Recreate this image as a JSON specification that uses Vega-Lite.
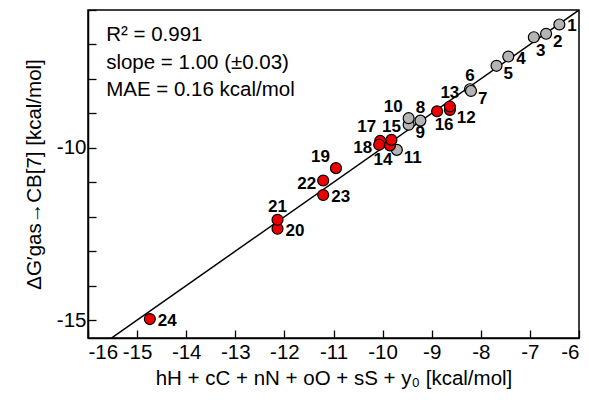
{
  "$schema": "https://vega.github.io/schema/vega-lite/v6.json",
  "width": 491,
  "height": 328,
  "autosize": "none",
  "padding": {"left": 88, "top": 10, "right": 10, "bottom": 62},
  "config": {
    "font": "Liberation Sans",
    "view": {"stroke": "#000", "strokeWidth": 1.5},
    "axis": {"grid": false, "domainColor": "#000", "tickColor": "#000", "labelColor": "#000", "titleColor": "#000", "labelFont": "Liberation Sans", "titleFont": "Liberation Sans", "labelFontSize": 20.5, "titleFontSize": 20.5, "titleFontWeight": "normal", "tickSize": -8, "domainWidth": 1.5, "tickWidth": 1.3}
  },
  "datasets": {
    "pts": [
      {"id": 1, "x": -6.40, "y": -6.42, "group": "gray"},
      {"id": 2, "x": -6.67, "y": -6.69, "group": "gray"},
      {"id": 3, "x": -6.92, "y": -6.79, "group": "gray"},
      {"id": 4, "x": -7.44, "y": -7.35, "group": "gray"},
      {"id": 5, "x": -7.68, "y": -7.62, "group": "gray"},
      {"id": 6, "x": -8.22, "y": -8.30, "group": "gray"},
      {"id": 7, "x": -8.20, "y": -8.35, "group": "gray"},
      {"id": 8, "x": -9.23, "y": -9.21, "group": "gray"},
      {"id": 9, "x": -9.47, "y": -9.33, "group": "gray"},
      {"id": 10, "x": -9.47, "y": -9.14, "group": "gray"},
      {"id": 11, "x": -9.71, "y": -10.06, "group": "gray"},
      {"id": 12, "x": -8.63, "y": -8.90, "group": "red"},
      {"id": 13, "x": -8.63, "y": -8.80, "group": "red"},
      {"id": 14, "x": -9.85, "y": -9.93, "group": "red"},
      {"id": 15, "x": -9.82, "y": -9.77, "group": "red"},
      {"id": 16, "x": -8.89, "y": -8.94, "group": "red"},
      {"id": 17, "x": -10.05, "y": -9.80, "group": "red"},
      {"id": 18, "x": -10.07, "y": -9.91, "group": "red"},
      {"id": 19, "x": -10.95, "y": -10.59, "group": "red"},
      {"id": 20, "x": -12.14, "y": -12.35, "group": "red"},
      {"id": 21, "x": -12.14, "y": -12.09, "group": "red"},
      {"id": 22, "x": -11.21, "y": -10.95, "group": "red"},
      {"id": 23, "x": -11.21, "y": -11.37, "group": "red"},
      {"id": 24, "x": -14.74, "y": -14.97, "group": "red"}
    ],
    "fit": [
      {"x": -16, "y": -16},
      {"x": -6, "y": -6}
    ],
    "notes": [
      {"x": -15.63, "y": -6.74, "text": "R² = 0.991"},
      {"x": -15.63, "y": -7.53, "text": "slope = 1.00 (±0.03)"},
      {"x": -15.63, "y": -8.31, "text": "MAE = 0.16 kcal/mol"}
    ]
  },
  "encoding": {
    "x": {
      "field": "x", "type": "quantitative",
      "scale": {"domain": [-16, -6], "nice": false, "zero": false},
      "axis": {"values": [-16, -15, -14, -13, -12, -11, -10, -9, -8, -7, -6], "labelExpr": "'' + datum.value", "labelPadding": 12, "titlePadding": 6, "title": "hH + cC + nN + oO + sS + y₀ [kcal/mol]"}
    },
    "y": {
      "field": "y", "type": "quantitative",
      "scale": {"domain": [-15.52, -6], "nice": false, "zero": false},
      "axis": {"values": [-15, -14, -13, -12, -11, -10, -9, -8, -7, -6], "labelExpr": "datum.value == -10 || datum.value == -15 ? '' + datum.value : ''", "labelPadding": 10, "titlePadding": 12, "title": "ΔG′gas→CB[7] [kcal/mol]"}
    }
  },
  "layer": [
    {
      "data": {"name": "fit"},
      "mark": {"type": "line", "color": "#000", "strokeWidth": 1.5, "clip": true},
      "encoding": {}
    },
    {
      "data": {"name": "pts"},
      "mark": {"type": "circle", "size": 120, "opacity": 1, "stroke": "#000", "strokeWidth": 1.2},
      "encoding": {
        "color": {"field": "group", "type": "nominal", "scale": {"domain": ["gray", "red"], "range": ["#b4b4b4", "#ee0000"]}, "legend": null}
      }
    },
    {
      "data": {"name": "pts"},
      "transform": [{"filter": {"field": "id", "oneOf": [1, 4, 23, 20, 24]}}],
      "mark": {"type": "text", "align": "left", "baseline": "middle", "dx": 8, "dy": 2, "fontSize": 17, "fontWeight": "bold", "color": "#000"},
      "encoding": {"text": {"field": "id"}}
    },
    {
      "data": {"name": "pts"},
      "transform": [{"filter": {"field": "id", "oneOf": [2, 5, 7, 12, 11, 9]}}],
      "mark": {"type": "text", "align": "left", "baseline": "middle", "dx": 7, "dy": 8, "fontSize": 17, "fontWeight": "bold", "color": "#000"},
      "encoding": {"text": {"field": "id"}}
    },
    {
      "data": {"name": "pts"},
      "transform": [{"filter": {"field": "id", "oneOf": [6, 13, 8, 15, 21]}}],
      "mark": {"type": "text", "align": "center", "baseline": "middle", "dx": 0, "dy": -13, "fontSize": 17, "fontWeight": "bold", "color": "#000"},
      "encoding": {"text": {"field": "id"}}
    },
    {
      "data": {"name": "pts"},
      "transform": [{"filter": {"field": "id", "oneOf": [10, 19]}}],
      "mark": {"type": "text", "align": "right", "baseline": "middle", "dx": -6, "dy": -11, "fontSize": 17, "fontWeight": "bold", "color": "#000"},
      "encoding": {"text": {"field": "id"}}
    },
    {
      "data": {"name": "pts"},
      "transform": [{"filter": {"field": "id", "oneOf": [17]}}],
      "mark": {"type": "text", "align": "right", "baseline": "middle", "dx": -4, "dy": -14, "fontSize": 17, "fontWeight": "bold", "color": "#000"},
      "encoding": {"text": {"field": "id"}}
    },
    {
      "data": {"name": "pts"},
      "transform": [{"filter": {"field": "id", "oneOf": [18, 22]}}],
      "mark": {"type": "text", "align": "right", "baseline": "middle", "dx": -7, "dy": 3, "fontSize": 17, "fontWeight": "bold", "color": "#000"},
      "encoding": {"text": {"field": "id"}}
    },
    {
      "data": {"name": "pts"},
      "transform": [{"filter": {"field": "id", "oneOf": [3, 16]}}],
      "mark": {"type": "text", "align": "center", "baseline": "middle", "dx": 7, "dy": 14, "fontSize": 17, "fontWeight": "bold", "color": "#000"},
      "encoding": {"text": {"field": "id"}}
    },
    {
      "data": {"name": "pts"},
      "transform": [{"filter": {"field": "id", "oneOf": [14]}}],
      "mark": {"type": "text", "align": "center", "baseline": "middle", "dx": -7, "dy": 15, "fontSize": 17, "fontWeight": "bold", "color": "#000"},
      "encoding": {"text": {"field": "id"}}
    },
    {
      "data": {"name": "notes"},
      "mark": {"type": "text", "align": "left", "baseline": "middle", "fontSize": 20.5, "color": "#000"},
      "encoding": {"text": {"field": "text"}}
    }
  ]
}
